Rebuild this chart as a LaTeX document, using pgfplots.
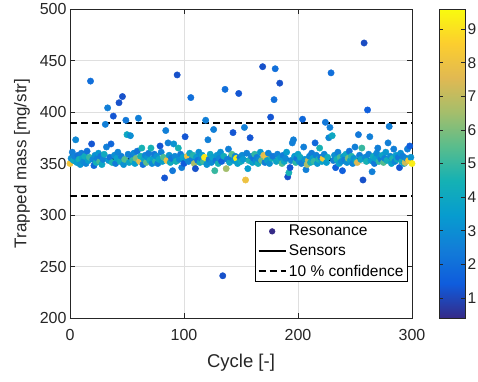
\documentclass[border=0pt]{standalone}
\usepackage{pgfplots}
\pgfplotsset{compat=1.18}
\usepackage{pgfplotstable}
\usepackage{fontspec}
\setmainfont{Liberation Sans}
\definecolor{axgray}{RGB}{38,38,38}
\definecolor{gridgray}{RGB}{223,223,223}
\definecolor{par1}{RGB}{53,42,135}
\pgfplotstableread{
x y c
0 350 8.2
1 355 3.0
2 361 2.5
3 353 4.0
4 357 2.6
5 373 2.8
6 351 3.5
7 358 2.2
8 354 4.5
9 349 3.2
10 360 2.4
11 355 3.8
12 352 2.9
13 357 4.2
14 350 2.7
15 362 2.1
16 353 3.6
17 356 5.0
18 430 2.0
19 369 1.3
20 354 2.8
21 348 1.8
22 358 3.1
23 351 4.4
24 355 2.5
25 360 3.3
26 352 5.2
27 357 2.3
28 349 3.9
29 354 2.6
30 359 4.1
31 388 2.5
32 366 2.5
33 404 2.5
34 353 3.4
35 356 2.2
36 369 1.8
37 351 4.6
38 396 1.3
39 358 3.0
40 350 2.4
41 355 3.7
42 361 2.7
43 409 1.2
44 352 4.3
45 357 2.5
46 415 1.2
47 349 3.1
48 354 5.4
49 392 2.3
50 378 4.0
51 359 2.6
52 351 3.8
53 377 3.0
54 356 2.4
55 353 4.9
56 360 2.8
57 350 3.5
58 355 6.0
59 362 2.2
60 394 2.5
61 352 7.6
62 357 4.5
63 365 4.5
64 349 2.1
65 354 3.9
66 358 2.7
67 351 5.6
68 356 3.2
69 360 2.4
70 353 4.2
71 365 4.5
72 350 2.9
73 355 3.6
74 359 2.3
75 352 4.8
76 357 3.1
77 350 2.5
78 354 4.0
79 367 1.3
80 361 2.6
81 352 3.7
82 356 5.3
83 336 1.3
84 382 2.5
85 353 7.9
86 370 2.5
87 358 3.2
88 351 4.1
89 355 2.3
90 343 2.3
91 369 3.2
92 357 2.8
93 352 4.4
94 436 1.2
95 365 4.5
96 354 3.0
97 359 2.4
98 346 2.5
99 356 3.6
100 350 1.4
101 376 1.3
102 355 3.3
103 357 8.0
104 352 2.7
105 360 3.9
106 414 2.0
107 354 2.5
108 358 4.7
109 350 6.6
110 345 1.2
111 356 3.4
112 353 2.2
113 361 3.0
114 351 4.2
115 355 2.6
116 358 3.5
117 352 5.1
118 356 9.2
119 392 2.5
120 349 3.1
121 373 2.5
122 354 2.4
123 359 4.0
124 351 2.9
125 356 3.7
126 383 2.5
127 343 5.0
128 353 2.3
129 358 3.3
130 350 4.5
131 355 2.7
132 361 3.1
133 352 1.6
134 241 1.2
135 357 4.3
136 422 2.0
137 345 6.5
138 354 2.5
139 364 2.5
140 351 3.9
141 356 2.4
142 359 5.5
143 380 1.3
144 353 3.2
145 357 2.8
146 355 9.3
147 350 3.6
148 418 1.3
149 356 2.3
150 352 4.1
151 358 2.9
152 354 3.4
153 385 2.5
154 334 8.0
155 360 2.6
156 345 3.5
157 353 4.6
158 375 1.3
159 357 2.7
160 351 3.8
161 355 2.2
162 359 4.9
163 352 3.0
164 356 2.5
165 350 4.3
166 354 2.9
167 361 3.4
168 353 5.7
169 444 1.2
170 358 7.7
171 351 2.4
172 356 8.1
173 353 3.6
174 360 2.7
175 350 3.1
176 395 1.3
177 355 4.4
178 357 2.3
179 412 2.0
180 442 2.0
181 352 3.8
182 359 2.6
183 354 4.0
184 428 1.2
185 356 3.3
186 350 5.3
187 358 2.4
188 352 3.9
189 355 2.8
190 361 3.5
191 337 1.2
192 341 4.5
193 346 1.3
194 353 2.7
195 370 2.5
196 373 2.5
197 357 3.4
198 351 4.8
199 355 2.2
200 359 3.7
201 352 2.9
202 356 4.1
203 350 2.5
204 393 1.8
205 366 2.5
206 354 3.2
207 344 2.5
208 349 6.6
209 353 6.9
210 357 2.8
211 351 4.3
212 360 2.4
213 355 3.6
214 352 5.0
215 370 1.8
216 358 2.6
217 350 3.3
218 354 4.6
219 365 4.5
220 356 2.3
221 352 3.8
222 355 8.3
223 359 2.7
224 390 2.3
225 351 3.5
226 356 4.2
227 375 2.8
228 385 2.5
229 438 2.0
230 377 4.0
231 353 2.5
232 358 3.1
233 346 1.5
234 354 4.4
235 361 2.6
236 350 3.7
237 356 5.2
238 352 2.9
239 343 1.5
240 357 3.4
241 354 2.4
242 359 4.0
243 351 3.0
244 355 5.9
245 362 2.2
246 353 3.6
247 357 4.7
248 350 2.7
249 355 3.2
250 366 2.5
251 352 4.1
252 351 7.5
253 378 2.3
254 358 2.5
255 354 3.8
256 365 5.0
257 334 1.2
258 467 1.1
259 356 2.9
260 352 4.5
261 402 1.5
262 359 2.6
263 376 2.5
264 353 3.4
265 342 2.5
266 357 4.2
267 350 2.3
268 355 3.7
269 360 2.8
270 365 2.5
271 352 4.9
272 356 3.1
273 354 2.4
274 358 3.9
275 351 5.4
276 355 2.6
277 361 3.3
278 353 4.3
279 370 2.5
280 386 2.5
281 357 2.9
282 350 3.6
283 355 4.6
284 364 2.5
285 352 2.7
286 358 3.5
287 354 4.0
288 356 2.3
289 346 1.3
290 360 3.0
291 352 4.4
292 357 2.5
293 350 3.8
294 351 7.2
295 355 2.8
296 364 2.5
297 353 8.4
298 367 1.5
299 356 3.2
300 350 9.3
}\resdata
\pgfplotstableread{
x y
0 354
300 354
}\sensdata
\pgfplotstableread{
x y
0 389.4
300 389.4
}\updata
\pgfplotstableread{
x y
0 318.6
300 318.6
}\lowdata
\begin{document}
\begin{tikzpicture}
\begin{axis}[
  name=ax,
  scale only axis, width=342pt, height=309pt,
  xmin=0, xmax=300, ymin=200, ymax=500,
  xtick={0,100,200,300}, ytick={200,250,...,500},
  grid=major, grid style={color=gridgray, line width=0.5pt},
  axis line style={color=axgray, line width=0.6pt},
  tick style={color=axgray, line width=0.6pt},
  tick align=inside, major tick length=5pt,
  xlabel={Cycle [-]}, ylabel={Trapped mass [mg/str]},
  xlabel style={font=\fontsize{18.5}{20}\selectfont, text=axgray, yshift=-6pt},
  ylabel style={font=\fontsize{17}{20}\selectfont, text=axgray, yshift=3pt},
  tick label style={font=\fontsize{16}{18}\selectfont, text=axgray},
  xticklabel style={yshift=-8pt},
  /pgf/number format/assume math mode=true,
  colormap={parula}{rgb255=(53,42,135) rgb255=(15,92,221) rgb255=(18,125,216) rgb255=(7,156,207) rgb255=(21,177,180) rgb255=(89,189,140) rgb255=(165,190,107) rgb255=(225,185,82) rgb255=(252,206,46) rgb255=(249,251,14)},
  point meta min=0.4, point meta max=9.6,
  colorbar,
  colorbar/width=26pt,
  colorbar shift/.style={xshift=0pt},
  colorbar style={
    at={(parent axis.north east)}, anchor=north west, xshift=27pt,
    ytick={1,2,...,9},
    tick align=inside, major tick length=4pt,
    axis line style={color=axgray, line width=0.6pt},
    tick style={color=axgray, line width=0.6pt},
    yticklabel style={font=\fontsize{15.5}{18}\selectfont, text=axgray, xshift=-1pt},
    /pgf/number format/assume math mode=true,
  },
  legend style={at={(0.988,0.314)}, anchor=north east, draw=black, line width=0.6pt,
    font=\fontsize{15.5}{17}\selectfont, cells={anchor=west}, inner sep=2pt, row sep=3.5pt},
  legend image code/.code={\draw[mark repeat=2,mark phase=2,#1] plot coordinates {(0pt,0pt) (13.5pt,0pt) (27pt,0pt)};},
]
\addlegendimage{only marks, mark=*, mark size=2.8pt, color=par1}
\addplot[scatter, only marks, mark=*, mark size=3.2pt, scatter src=explicit,
  scatter/use mapped color={draw=mapped color, fill=mapped color}, forget plot]
  table[x=x, y=y, meta=c] {\resdata};
\addplot[black, line width=2.6pt] table[x=x,y=y] {\sensdata};
\addplot[black, line width=2pt, dash pattern=on 7pt off 4pt] table[x=x,y=y] {\updata};
\addplot[black, line width=2pt, dash pattern=on 7pt off 4pt, forget plot] table[x=x,y=y] {\lowdata};
\legend{Resonance, Sensors, 10 \% confidence}
\end{axis}
\pgfresetboundingbox
\path[use as bounding box] ([shift={(-70pt,-63pt)}]ax.south west) rectangle ([shift={(66pt,9pt)}]ax.north east);
\end{tikzpicture}
\end{document}
